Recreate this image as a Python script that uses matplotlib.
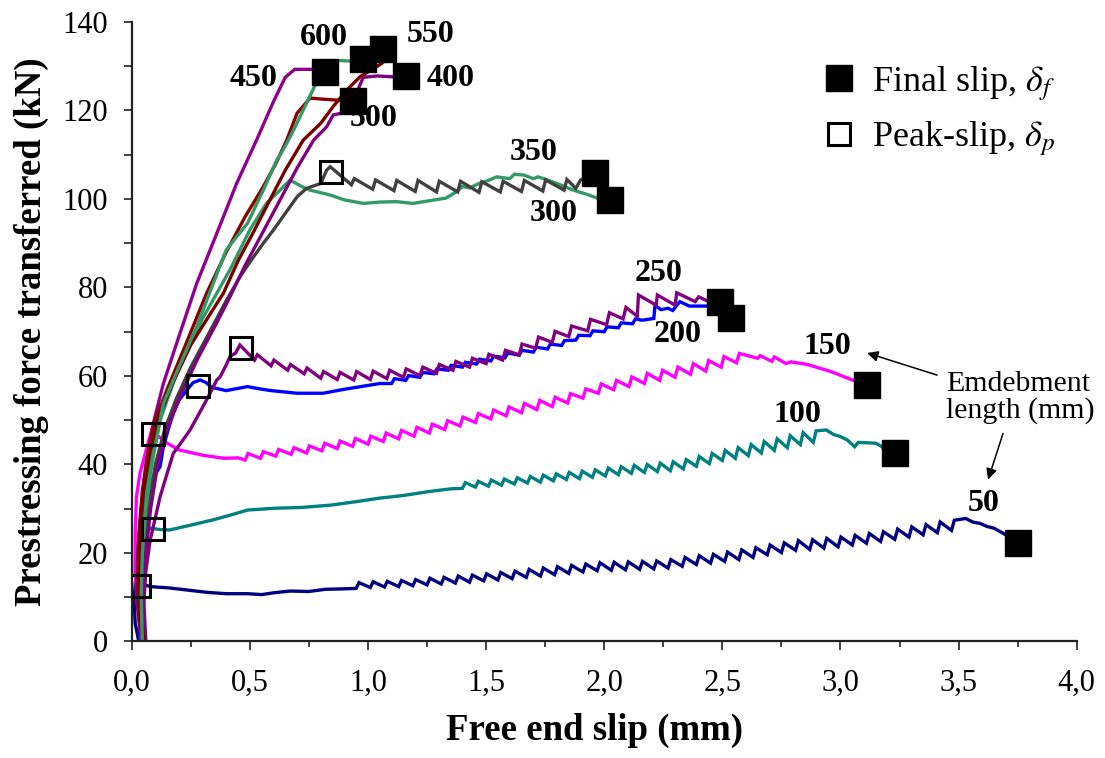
import matplotlib
matplotlib.use("Agg")
import matplotlib.pyplot as plt
from matplotlib.lines import Line2D
from matplotlib.ticker import MultipleLocator, FuncFormatter

plt.rcParams["font.family"] = ["Liberation Serif", "DejaVu Serif"]
plt.rcParams["mathtext.fontset"] = "stix"

# ---- data (slip in mm, force in kN) ----
lengths = [50, 100, 150, 200, 250, 300, 350, 400, 450, 500, 550, 600]
colors = ["#000080", "#008080", "#FF00FF", "#0000FF", "#800080", "#339966",
          "#404040", "#800080", "#900090", "#8B0000", "#7A0000", "#339966"]

# smooth parts of each curve: (slip, force)
p50 = [(0.03, 0), (0.015, 4), (0.01, 9), (0.015, 13.2), (0.04, 13.0), (0.08, 12.4),
       (0.16, 12.1), (0.24, 11.6), (0.32, 11.1), (0.40, 10.8), (0.49, 10.8),
       (0.55, 10.6), (0.60, 11.0), (0.67, 11.4), (0.75, 11.3), (0.82, 11.8), (0.90, 11.9)]
# sawtooth parts: (slip, trough before jump, top after jump)
t50 = [(0.95, 12.0, 13.3), (1.01, 12.2, 13.5), (1.07, 12.3, 13.6), (1.13, 12.4, 13.8),
       (1.19, 12.6, 14.0), (1.25, 12.8, 14.3), (1.31, 13.0, 14.5), (1.37, 13.2, 14.8),
       (1.43, 13.4, 15.0), (1.49, 13.7, 15.3), (1.55, 13.9, 15.6), (1.61, 14.2, 15.9),
       (1.67, 14.5, 16.3), (1.73, 14.8, 16.6), (1.79, 15.1, 16.9), (1.85, 15.4, 17.2),
       (1.91, 15.7, 17.5), (1.97, 16.0, 17.8), (2.03, 16.1, 17.9), (2.09, 16.2, 18.0),
       (2.15, 16.3, 18.1), (2.21, 16.4, 18.2), (2.27, 16.6, 18.5), (2.33, 17.0, 19.0),
       (2.39, 17.4, 19.4), (2.45, 17.7, 19.7), (2.51, 18.1, 20.2), (2.57, 18.5, 20.7),
       (2.63, 19.0, 21.2), (2.69, 19.6, 21.8), (2.75, 20.1, 22.3), (2.81, 20.6, 22.8),
       (2.87, 20.8, 23.0), (2.93, 21.1, 23.3), (2.99, 21.4, 23.6), (3.05, 21.8, 24.0),
       (3.11, 22.2, 24.4), (3.17, 22.6, 24.8), (3.23, 23.1, 25.4), (3.29, 23.6, 25.9),
       (3.35, 24.1, 26.4), (3.41, 24.6, 27.0), (3.47, 25.1, 27.4)]
e50 = [(3.53, 27.8), (3.56, 27.0), (3.59, 26.7), (3.62, 26.0), (3.65, 25.6),
       (3.70, 24.1), (3.73, 22.9)]

p100 = [(0.04, 0), (0.035, 5), (0.04, 12), (0.05, 20), (0.06, 24.5), (0.078, 25.6),
        (0.12, 25.3), (0.16, 25.2), (0.25, 26.3), (0.345, 27.5), (0.42, 28.6),
        (0.49, 29.7), (0.60, 30.1), (0.72, 30.3), (0.84, 30.8), (0.95, 31.6),
        (1.05, 32.4), (1.15, 33.0), (1.26, 33.9), (1.35, 34.5)]
t100 = [(1.40, 34.6, 35.9), (1.455, 34.9, 36.2), (1.51, 35.1, 36.5), (1.565, 35.3, 36.7),
        (1.62, 35.6, 37.0), (1.675, 35.8, 37.3), (1.73, 36.0, 37.6), (1.785, 36.3, 37.9),
        (1.84, 36.6, 38.2), (1.895, 36.8, 38.5), (1.95, 37.1, 38.8), (2.005, 37.4, 39.2),
        (2.06, 37.7, 39.5), (2.115, 38.0, 39.8), (2.17, 38.2, 40.0), (2.225, 38.4, 40.3),
        (2.28, 38.6, 40.6), (2.335, 39.0, 41.1), (2.39, 39.6, 41.8), (2.445, 40.2, 42.5),
        (2.50, 40.9, 43.2), (2.555, 41.4, 43.8), (2.61, 42.0, 44.5), (2.665, 42.6, 45.2),
        (2.72, 43.2, 45.8), (2.775, 43.8, 46.5), (2.83, 44.5, 47.2), (2.885, 45.0, 47.6)]
e100 = [(2.94, 47.8), (2.97, 46.8), (3.00, 46.3), (3.03, 45.5), (3.06, 44.0),
        (3.075, 45.0), (3.15, 44.8), (3.17, 44.2), (3.20, 43.0)]

p150 = [(0.05, 0), (0.03, 6), (0.014, 15.5), (0.015, 25), (0.02, 32.7), (0.035, 38),
        (0.05, 41), (0.07, 45), (0.085, 47.8), (0.11, 46.5), (0.15, 44.8), (0.20, 43.3),
        (0.30, 42.1), (0.39, 41.4), (0.45, 41.5)]
t150 = [(0.48, 41.0, 42.5), (0.545, 41.4, 42.9), (0.61, 41.9, 43.4), (0.675, 42.3, 43.8),
        (0.74, 42.6, 44.2), (0.805, 43.1, 44.8), (0.87, 43.6, 45.3), (0.935, 44.1, 45.9),
        (1.00, 44.6, 46.4), (1.065, 45.2, 47.1), (1.13, 45.8, 47.7), (1.195, 46.4, 48.4),
        (1.26, 47.1, 49.1), (1.325, 47.9, 49.9), (1.39, 48.7, 50.7), (1.455, 49.5, 51.5),
        (1.52, 50.3, 52.3), (1.585, 51.0, 53.0), (1.65, 51.7, 53.8), (1.715, 52.4, 54.5),
        (1.78, 53.1, 55.2), (1.845, 53.9, 56.0), (1.91, 55.0, 57.1), (1.975, 56.1, 58.2),
        (2.04, 56.9, 59.0), (2.105, 57.6, 59.8), (2.17, 58.3, 60.6), (2.235, 59.0, 61.3),
        (2.30, 59.7, 62.0), (2.365, 60.4, 62.8), (2.43, 61.1, 63.5), (2.495, 62.0, 64.4),
        (2.56, 63.0, 65.1)]
e150 = [(2.65, 64.0), (2.66, 64.6), (2.71, 63.3), (2.72, 64.3), (2.77, 62.8), (2.79, 63.2),
        (2.86, 62.6), (2.96, 61.0), (3.05, 59.1), (3.09, 58.4)]

p200 = [(0.035, 0), (0.03, 10), (0.035, 21.4), (0.063, 34.2), (0.09, 37), (0.12, 39.5),
        (0.134, 44), (0.155, 48), (0.176, 51.6), (0.20, 54.5), (0.233, 56.8), (0.26, 58.5),
        (0.29, 59.1), (0.315, 58.5), (0.34, 57.4), (0.40, 56.7), (0.45, 57.2), (0.49, 57.6),
        (0.54, 57.1), (0.59, 56.7), (0.70, 56.1), (0.81, 56.1), (0.90, 57.0), (1.05, 58.3)]
t200 = [(1.10, 58.3, 59.4), (1.16, 59.0, 60.1), (1.22, 59.7, 60.8), (1.28, 60.5, 61.6),
        (1.34, 61.3, 62.4), (1.40, 62.0, 63.1), (1.46, 62.7, 63.8), (1.52, 63.4, 64.5),
        (1.58, 64.1, 65.2), (1.64, 64.7, 65.8), (1.70, 65.4, 66.5), (1.76, 66.1, 67.2),
        (1.82, 66.9, 68.0), (1.88, 68.1, 69.2), (1.94, 69.1, 70.2), (2.00, 70.0, 71.1),
        (2.06, 70.9, 72.0), (2.12, 71.8, 72.9)]
e200 = [(2.16, 72.6), (2.21, 73.0), (2.215, 76.0), (2.24, 75.0), (2.27, 75.3), (2.29, 74.8),
        (2.32, 76.8), (2.36, 75.8), (2.43, 75.8), (2.48, 75.6), (2.50, 74.5)]

p250 = [(0.055, 0), (0.05, 8), (0.06, 16), (0.078, 22.9), (0.10, 28), (0.12, 32.7),
        (0.15, 38), (0.176, 42.5), (0.21, 45), (0.247, 47.8), (0.28, 51), (0.317, 54.6),
        (0.36, 59.1), (0.374, 59.8), (0.40, 62.5), (0.416, 64.4), (0.44, 65.2), (0.458, 67.0)]
t250 = [(0.52, 63.6, 64.8), (0.59, 62.3, 63.6), (0.66, 61.3, 62.6), (0.73, 60.5, 61.8),
        (0.80, 59.5, 61.0), (0.87, 59.2, 60.8), (0.94, 59.1, 61.0), (1.01, 59.2, 61.1),
        (1.08, 59.4, 61.3), (1.15, 59.7, 61.6), (1.22, 60.1, 62.0), (1.29, 60.6, 62.6),
        (1.36, 61.3, 63.3), (1.43, 62.0, 64.0), (1.50, 62.8, 64.9), (1.57, 63.6, 65.8),
        (1.64, 64.8, 67.2), (1.71, 66.3, 68.8), (1.78, 67.6, 70.1), (1.85, 68.9, 71.3),
        (1.93, 70.2, 72.8), (2.01, 71.6, 74.3), (2.08, 72.9, 75.5)]
e250 = [(2.14, 73.5), (2.145, 78.3), (2.22, 76.0), (2.225, 78.3), (2.30, 76.0),
        (2.307, 78.8), (2.385, 76.8), (2.40, 77.9), (2.45, 76.6)]

p300 = [(0.04, 0), (0.03, 15), (0.06, 35), (0.12, 50), (0.20, 62), (0.30, 73), (0.416, 84),
        (0.50, 93), (0.57, 99), (0.628, 102), (0.67, 104.3), (0.72, 102.8), (0.755, 102.0),
        (0.84, 100.9), (0.90, 99.8), (0.98, 99.0), (1.05, 99.3), (1.12, 99.4), (1.19, 99.0),
        (1.26, 99.6), (1.33, 100.2), (1.37, 101.5), (1.40, 102.8), (1.43, 102.5),
        (1.47, 103.5), (1.51, 104.2), (1.545, 105.0), (1.60, 104.6), (1.62, 105.6),
        (1.66, 105.4), (1.70, 104.6), (1.72, 105.0), (1.76, 104.3), (1.80, 103.5),
        (1.87, 102.0), (1.93, 101.0), (1.97, 100.2), (2.00, 99.9)]

p350 = [(0.05, 0), (0.04, 10), (0.05, 20), (0.07, 30), (0.10, 40), (0.14, 48), (0.19, 55),
        (0.25, 62), (0.30, 67), (0.35, 72), (0.40, 77), (0.458, 82.4), (0.51, 86.5),
        (0.557, 90), (0.60, 93), (0.64, 96), (0.70, 100.5), (0.74, 102.4), (0.80, 103.5),
        (0.825, 106.5), (0.84, 107.3)]
t350 = [(0.93, 103.2, 104.6), (1.02, 102.2, 104.3), (1.11, 101.9, 104.2), (1.20, 101.7, 104.2),
        (1.29, 101.6, 104.0), (1.38, 101.6, 104.0), (1.47, 101.5, 103.9), (1.56, 101.6, 104.0),
        (1.65, 101.7, 104.2), (1.74, 101.8, 104.3), (1.83, 102.0, 104.4)]
e350 = [(1.88, 102.4), (1.90, 104.3), (1.93, 104.9)]

p400 = [(0.06, 0), (0.05, 10), (0.06, 20), (0.08, 30), (0.11, 40), (0.15, 48), (0.21, 56),
        (0.28, 64), (0.35, 71), (0.416, 77.9), (0.48, 85), (0.55, 92), (0.628, 99.8),
        (0.70, 107), (0.77, 113.3), (0.825, 116.3), (0.853, 119), (0.90, 119.5),
        (0.93, 122), (0.96, 125), (0.98, 127.5), (1.04, 127.8), (1.107, 127.6), (1.14, 127.7)]
p450 = [(0.04, 0), (0.02, 10), (0.025, 20), (0.04, 30), (0.06, 40), (0.09, 49),
        (0.134, 58.3), (0.204, 69.6), (0.275, 80.9), (0.36, 92.2), (0.444, 103.5),
        (0.53, 113.5), (0.60, 122), (0.65, 127.5), (0.69, 129.3), (0.80, 129.3)]
p500 = [(0.05, 0), (0.03, 6), (0.025, 14), (0.03, 24), (0.045, 34), (0.07, 43), (0.10, 50),
        (0.15, 57), (0.22, 66), (0.317, 78.7), (0.40, 88), (0.48, 96), (0.557, 102.8),
        (0.61, 108), (0.656, 113.3), (0.70, 119.4), (0.755, 122.8), (0.80, 122.6),
        (0.853, 122.4), (0.91, 122.2)]
p550 = [(0.055, 0), (0.035, 6), (0.03, 14), (0.035, 24), (0.05, 34), (0.075, 42), (0.11, 50),
        (0.17, 58), (0.25, 67), (0.32, 73), (0.388, 78.7), (0.45, 86), (0.52, 93),
        (0.585, 99.8), (0.65, 106.5), (0.726, 113.3), (0.80, 117.1), (0.853, 120.9),
        (0.91, 124.6), (0.966, 127.6), (1.037, 129.9), (1.06, 130.7)]
p600 = [(0.045, 0), (0.04, 10), (0.045, 20), (0.06, 30), (0.085, 40), (0.11, 47),
        (0.134, 53.8), (0.20, 62), (0.275, 71.1), (0.345, 80.9), (0.40, 88.5), (0.49, 94.5),
        (0.557, 102), (0.614, 108.8), (0.64, 111), (0.68, 115), (0.726, 120.1),
        (0.78, 126.1), (0.81, 130.6), (0.88, 131.3), (0.95, 131.1)]

# final slip points (same order as lengths)
final_x = [3.75, 3.23, 3.114, 2.535, 2.489, 2.023, 1.963, 1.16, 0.82, 0.937, 1.065, 0.98]
final_y = [22.2, 42.5, 58.0, 73.1, 76.7, 99.8, 105.9, 127.7, 128.8, 122.2, 134.0, 131.7]
# peak-slip points
peak_x = [0.03, 0.088, 0.088, 0.282, 0.464, 0.844]
peak_y = [12.65, 25.4, 46.85, 57.8, 66.4, 106.1]

# label placement for each embedment length
label_x = [3.608, 2.816, 2.943, 2.312, 2.232, 1.788, 1.703, 1.348, 0.514, 1.026, 1.263, 0.815]
label_y = [31.1, 51.4, 66.6, 69.3, 83.1, 96.8, 110.4, 127.3, 127.3, 118.3, 137.1, 136.6]

RISE = 0.012  # horizontal width of a sawtooth jump


def build(pre, teeth=(), post=()):
    xs = [p[0] for p in pre]
    ys = [p[1] for p in pre]
    for x, lo, hi in teeth:
        xs += [x, x + RISE]
        ys += [lo, hi]
    xs += [p[0] for p in post]
    ys += [p[1] for p in post]
    return xs, ys


curves = [build(p50, t50, e50), build(p100, t100, e100), build(p150, t150, e150),
          build(p200, t200, e200), build(p250, t250, e250), build(p300),
          build(p350, t350, e350), build(p400), build(p450), build(p500),
          build(p550), build(p600)]

fig = plt.figure(figsize=(11.05, 7.58), dpi=100)
ax = fig.add_axes([0.1192, 0.1537, 0.8552, 0.8173])

for (xs, ys), c in zip(curves, colors):
    ax.plot(xs, ys, color=c, lw=2.4, solid_joinstyle="miter", zorder=2)

ax.plot(final_x, final_y, "s", ms=18.5, mfc="black", mec="black", mew=1, zorder=4)
ax.plot(peak_x, peak_y, "s", ms=16, mfc="none", mec="black", mew=2.2, zorder=4)

for lab, x, y in zip(lengths, label_x, label_y):
    ax.text(x, y, str(lab), ha="center", va="center", fontsize=23,
            fontweight="bold", zorder=5)

ax.text(3.447, 55.2, "Emdebment\nlength (mm)", ha="left", va="center",
        fontsize=21.5, linespacing=1.0)
arrow = dict(arrowstyle="-|>", color="black", lw=1.1, mutation_scale=16,
             shrinkA=0, shrinkB=0)
ax.annotate("", xy=(3.113, 65.2), xytext=(3.409, 60.2), arrowprops=arrow)
ax.annotate("", xy=(3.625, 36.6), xytext=(3.688, 47.0), arrowprops=arrow)

ax.set_xlim(0, 4.0)
ax.set_ylim(0, 140)
ax.xaxis.set_major_locator(MultipleLocator(0.5))
ax.xaxis.set_minor_locator(MultipleLocator(0.25))
ax.yaxis.set_major_locator(MultipleLocator(20))
ax.yaxis.set_minor_locator(MultipleLocator(10))
ax.xaxis.set_major_formatter(FuncFormatter(lambda v, p: f"{v:.1f}".replace(".", ",")))

for s in ["top", "right"]:
    ax.spines[s].set_visible(False)
for s in ["left", "bottom"]:
    ax.spines[s].set_linewidth(1.6)
    ax.spines[s].set_color("#222222")

ax.tick_params(axis="x", which="major", length=6.5, width=1.2, pad=13,
               labelsize=22, direction="out", color="#222222")
ax.tick_params(axis="x", which="minor", length=4.3, width=1.2, direction="out",
               color="#222222")
ax.tick_params(axis="y", which="major", length=6, width=1.2, pad=11,
               labelsize=22, direction="out", color="#222222")
ax.tick_params(axis="y", which="minor", length=6, width=1.2, direction="out",
               color="#222222")

ax.set_xlabel("Free end slip (mm)", fontsize=26.5, fontweight="bold")
ax.set_ylabel("Prestressing force transferred (kN)", fontsize=26.5, fontweight="bold")
ax.xaxis.set_label_coords(0.49, -0.115)
ax.yaxis.set_label_coords(-0.088, 0.5)

handles = [
    Line2D([], [], ls="none", marker="s", ms=18.5, mfc="black", mec="black", mew=1),
    Line2D([], [], ls="none", marker="s", ms=16, mfc="none", mec="black", mew=2.2),
]
ax.legend(handles, [r"Final slip, $\delta_f$", r"Peak-slip, $\delta_p$"],
          loc="upper left", bbox_to_anchor=(825 / 1105, 1 - 64 / 758),
          bbox_transform=fig.transFigure, frameon=False, fontsize=26,
          handlelength=0.8, handletextpad=0.5, borderpad=0, borderaxespad=0,
          labelspacing=0.45)

fig.savefig("out.png", dpi=100)
